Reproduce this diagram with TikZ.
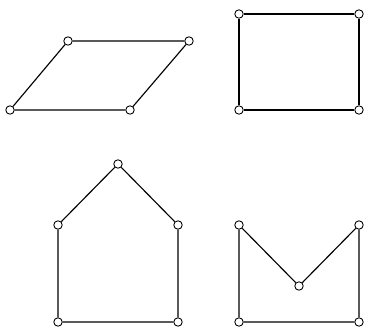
\documentclass[tikz,border=0pt]{standalone}
\usepackage{tikz}
\usetikzlibrary{positioning}

\begin{document}
\begin{tikzpicture}[
		x=0.02cm, y=-0.02cm,
		vertex/.style={circle, draw=black, line width=0.5pt, fill=white, inner sep=0pt, minimum size=4.8pt},
		edge/.style={draw, line width=0.65pt}
	]

	\useasboundingbox (0,0) rectangle (365,326);

	% Parallelogram
	\node[vertex] (pa) at (68,41) {};
	\node[vertex] (pb) at (189,41) {};
	\node[vertex] (pc) at (130,110) {};
	\node[vertex] (pd) at (10,110) {};

	% Rectangle
	\node[vertex] (ra) at (239,14) {};
	\node[vertex] (rb) at (359,14) {};
	\node[vertex] (rc) at (359,110) {};
	\node[vertex] (rd) at (239,110) {};

	% House
	\node[vertex] (ha) at (118,164) {};
	\node[vertex] (hb) at (178,225) {};
	\node[vertex] (hc) at (178,322) {};
	\node[vertex] (hd) at (58,322) {};
	\node[vertex] (he) at (58,225) {};

	% M shape
	\node[vertex] (ma) at (239,225) {};
	\node[vertex] (mb) at (299,286) {};
	\node[vertex] (mc) at (359,225) {};
	\node[vertex] (md) at (359,322) {};
	\node[vertex] (me) at (239,322) {};

	% Edges
	\draw[edge] (pa) -- (pb) -- (pc) -- (pd) -- (pa);
	\draw[edge] (ra) -- (rb) -- (rc) -- (rd) -- (ra);
	\draw[edge] (ha) -- (hb) -- (hc) -- (hd) -- (he) -- (ha);
	\draw[edge] (ma) -- (mb) -- (mc) -- (md) -- (me) -- (ma);

\end{tikzpicture}
\end{document}
